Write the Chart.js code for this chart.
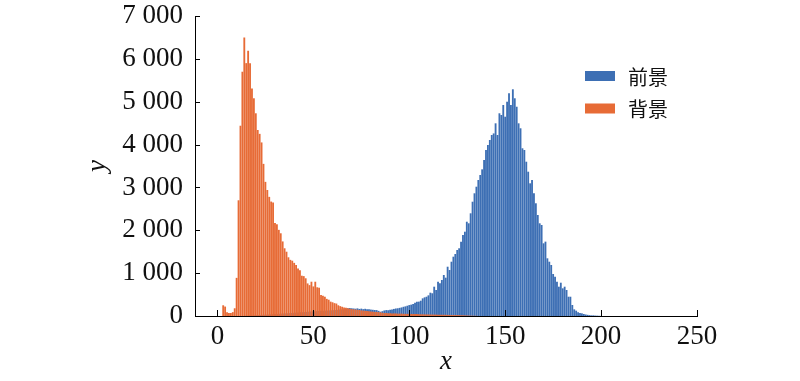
<!DOCTYPE html>
<html>
<head>
<meta charset="utf-8">
<script src="https://cdn.jsdelivr.net/npm/chart.js@4"></script>
<style>
html, body { margin: 0; padding: 0; background: #fff; }
#wrap { width: 800px; height: 381px; position: relative; }
</style>
</head>
<body>
<div id="wrap"><canvas id="grafico"></canvas></div>
<script>
// histograma de grises: conteo por nivel (bin 0..200)
const etiquetas = ['前景', '背景'];
const xTicks = [0, 50, 100, 150, 200, 250];
const yTicks = [0, 1000, 2000, 3000, 4000, 5000, 6000, 7000];

const fgCounts = [
  0, 0, 0, 0, 0, 0, 0, 0, 0, 0,
  0, 0, 0, 0, 0, 5, 8, 10, 12, 15,
  18, 20, 22, 25, 28, 30, 32, 35, 38, 40,
  45, 48, 50, 55, 58, 60, 62, 65, 68, 70,
  75, 78, 80, 85, 88, 90, 95, 98, 100, 105,
  108, 110, 115, 118, 120, 122, 125, 128, 130, 132,
  135, 138, 140, 145, 150, 155, 160, 170, 180, 185,
  180, 175, 170, 178, 165, 172, 160, 168, 155, 160,
  150, 145, 140, 138, 120, 100, 112, 130, 138, 135,
  145, 150, 165, 175, 180, 190, 200, 215, 225, 240,
  255, 265, 280, 310, 335, 335, 357, 412, 435, 450,
  482, 544, 530, 684, 607, 800, 762, 840, 957, 894,
  1150, 1073, 1267, 1384, 1447, 1540, 1580, 1735, 1890, 1967,
  2200, 2163, 2396, 2667, 2863, 3017, 3173, 3290, 3422, 3640,
  3873, 3990, 4107, 4223, 4260, 4496, 4223, 4730, 4690, 4923,
  4650, 5000, 5196, 4923, 5290, 5080, 4883, 4496, 4380, 3913,
  3873, 3600, 3367, 3096, 3173, 2863, 2630, 2357, 2163, 2123,
  1696, 1735, 1346, 1267, 1190, 980, 917, 800, 684, 777,
  646, 684, 607, 450, 450, 257, 155, 124, 86, 70,
  62, 47, 35, 27, 20, 15, 15, 10, 8, 5,
  3
];

const bgCounts = [
  0, 0, 0, 250, 220, 90, 70, 70, 90, 180,
  890, 2700, 4440, 5700, 6500, 5900, 6190, 5900, 5310, 5080,
  4730, 4340, 4250, 4050, 3550, 3130, 2940, 2780, 2670, 2650,
  2170, 2140, 2010, 1930, 1740, 1580, 1500, 1370, 1310, 1290,
  1240, 1190, 1110, 1070, 940, 930, 880, 760, 720, 800,
  690, 800, 670, 660, 490, 470, 450, 400, 380, 335,
  320, 300, 290, 250, 230, 215, 200, 190, 180, 170,
  160, 155, 150, 145, 140, 130, 125, 120, 115, 110,
  105, 100, 95, 95, 90, 85, 75, 70, 70, 65,
  65, 60, 60, 60, 55, 55, 55, 50, 50, 50,
  50, 48, 46, 45, 44, 42, 40, 40, 38, 37,
  36, 35, 34, 33, 32, 31, 30, 29, 28, 27,
  26, 25, 24, 23, 22, 21, 20, 18, 16, 14,
  12, 10, 8, 6, 5, 4
];

const azul = '#3d6fb4';
const naranja = '#e76b36';
const fuenteSerif = '"Liberation Serif", "Times New Roman", serif';

function miles(v) {
  return String(v).replace(/\B(?=(\d{3})+(?!\d))/g, ' ');
}

// marcas de los ejes hacia adentro
const ticksAdentro = {
  id: 'ticksAdentro',
  afterDraw(chart) {
    const ctx = chart.ctx;
    const sx = chart.scales.x, sy = chart.scales.y;
    ctx.save();
    ctx.strokeStyle = '#000';
    ctx.lineWidth = 1;
    ctx.beginPath();
    sx.ticks.forEach(t => {
      const px = Math.round(sx.getPixelForValue(t.value)) + 0.5;
      ctx.moveTo(px, sy.bottom);
      ctx.lineTo(px, sy.bottom - 6);
    });
    sy.ticks.forEach(t => {
      if (t.value === 0) return;
      const py = Math.round(sy.getPixelForValue(t.value)) + 0.5;
      ctx.moveTo(sx.left, py);
      ctx.lineTo(sx.left + 5, py);
    });
    ctx.stroke();
    ctx.restore();
  }
};

const leyenda = {
  id: 'leyenda',
  afterDraw(chart) {
    const ctx = chart.ctx;
    ctx.save();
    ctx.font = '20px "Noto Sans CJK SC"';
    ctx.textBaseline = 'middle';
    chart.data.datasets.forEach((ds, i) => {
      const y = 76 + i * 32.5;
      ctx.fillStyle = ds.backgroundColor;
      ctx.fillRect(585, y - 5, 30, 10);
      ctx.fillStyle = '#111';
      ctx.fillText(ds.label, 628, y + 1);
    });
    ctx.restore();
  }
};

const ctx = document.getElementById('grafico').getContext('2d');
new Chart(ctx, {
  type: 'bar',
  data: {
    datasets: [
      {
        label: etiquetas[0],
        data: fgCounts.map((v, i) => ({ x: i, y: v })),
        backgroundColor: azul,
        order: 1
      },
      {
        label: etiquetas[1],
        data: bgCounts.map((v, i) => ({ x: i, y: v })),
        backgroundColor: naranja,
        order: 0
      }
    ]
  },
  options: {
    responsive: true,
    maintainAspectRatio: false,
    animation: false,
    grouped: false,
    barPercentage: 0.96,
    categoryPercentage: 1,
    layout: { padding: { top: 16, right: 103, left: 0, bottom: 0 } },
    plugins: {
      legend: { display: false },
      tooltip: { enabled: false }
    },
    scales: {
      x: {
        type: 'linear',
        offset: false,
        min: -11.7,
        max: 250,
        afterFit: s => { s.height = 65; s.paddingLeft = 0; s.paddingRight = 0; },
        afterBuildTicks: s => { s.ticks = xTicks.map(v => ({ value: v })); },
        grid: { display: false, drawTicks: false },
        border: { display: true, color: '#000', width: 1 },
        ticks: {
          padding: 5,
          maxRotation: 0,
          color: '#111',
          font: { family: fuenteSerif, size: 27 },
          callback: v => String(v)
        },
        title: {
          display: true,
          text: 'x',
          color: '#111',
          padding: { top: 0, bottom: 3 },
          font: { family: fuenteSerif, size: 27, style: 'italic' }
        }
      },
      y: {
        min: 0,
        max: 7000,
        afterFit: s => { s.width = 195; s.paddingTop = 0; s.paddingBottom = 0; },
        afterBuildTicks: s => { s.ticks = yTicks.map(v => ({ value: v })); },
        grid: { display: false, drawTicks: false },
        border: { display: true, color: '#000', width: 1 },
        ticks: {
          padding: 12,
          color: '#111',
          font: { family: fuenteSerif, size: 27 },
          callback: v => miles(v)
        },
        title: {
          display: true,
          text: 'y',
          color: '#111',
          padding: { top: 82, bottom: 0 },
          font: { family: fuenteSerif, size: 27, style: 'italic' }
        }
      }
    }
  },
  plugins: [ticksAdentro, leyenda]
});
</script>
</body>
</html>
